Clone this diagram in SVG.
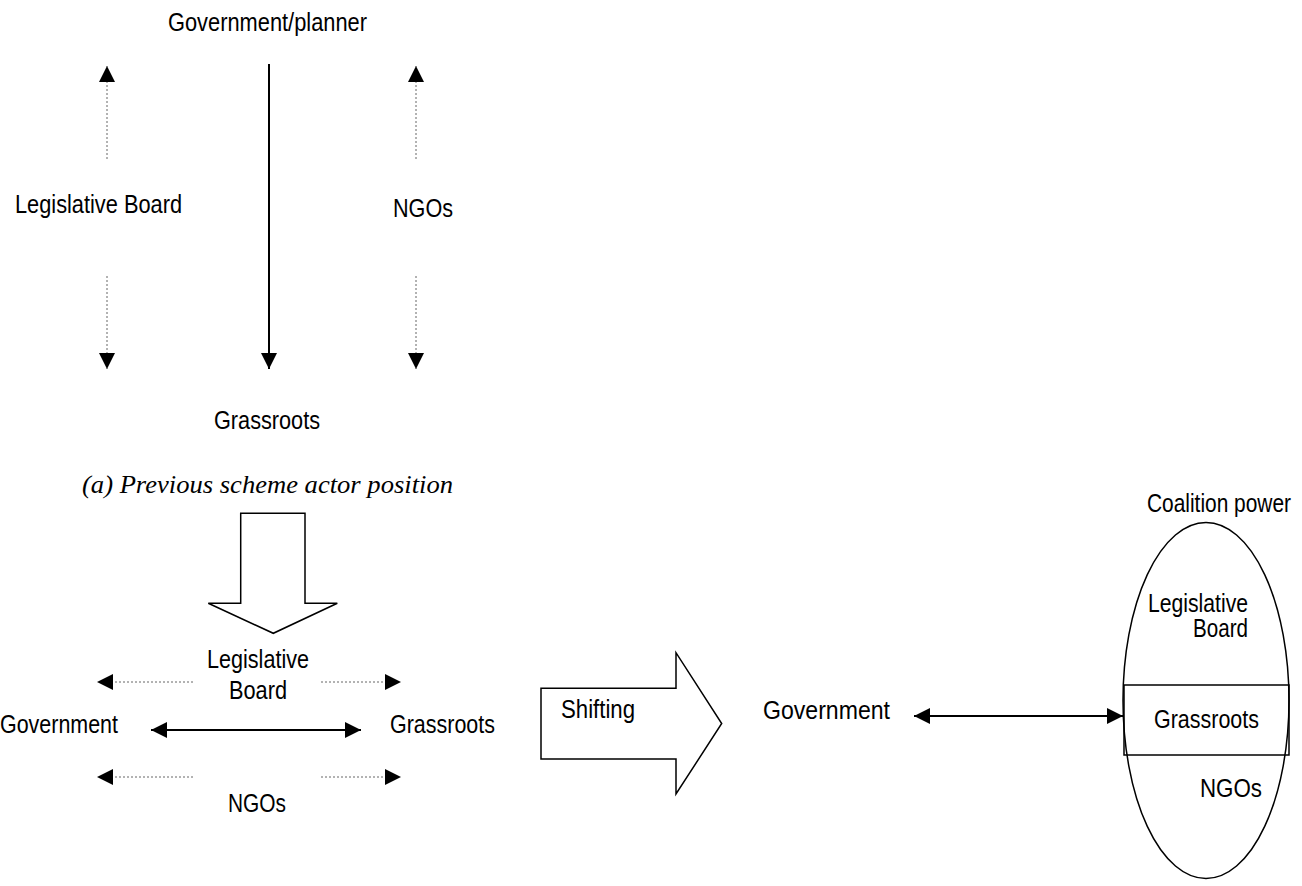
<svg xmlns="http://www.w3.org/2000/svg" width="1302" height="886" viewBox="0 0 1302 886">
<defs>
<style>
.t{font-family:"Liberation Sans",Arial,sans-serif;font-size:25px;fill:#000}
.cap{font-family:"Liberation Serif","Times New Roman",serif;font-style:italic;font-size:26px;fill:#000}
.dot{stroke:#666;stroke-width:1;stroke-dasharray:2 2;fill:none}
.sol{stroke:#000;stroke-width:2;fill:none}
.shape{fill:#fff;stroke:#000;stroke-width:1.5}
.box{fill:none;stroke:#000;stroke-width:1.5}
</style>
<marker id="ah" viewBox="0 0 16 16" refX="16" refY="8" markerWidth="16" markerHeight="16" markerUnits="userSpaceOnUse" orient="auto-start-reverse">
<path d="M0,0 L16,8 L0,16 z" fill="#000"/>
</marker>
</defs>
<rect width="1302" height="886" fill="#fff"/>

<g id="top-government">
<text class="t" x="168" y="31" textLength="199" lengthAdjust="spacingAndGlyphs">Government/planner</text>
</g>
<g id="top-legislative">
<text class="t" x="15" y="213" textLength="167" lengthAdjust="spacingAndGlyphs">Legislative Board</text>
</g>
<g id="top-ngos">
<text class="t" x="393" y="217" textLength="60" lengthAdjust="spacingAndGlyphs">NGOs</text>
</g>
<g id="top-grassroots">
<text class="t" x="214" y="429" textLength="106" lengthAdjust="spacingAndGlyphs">Grassroots</text>
</g>
<g id="caption-a">
<text class="cap" x="82" y="493" textLength="371" lengthAdjust="spacingAndGlyphs">(a) Previous scheme actor position</text>
</g>

<g id="down-block-arrow">
<polygon class="shape" points="240.7,513.3 305,513.3 305,603.3 337.3,603.3 273.3,633.3 208.3,603.3 240.7,603.3"/>
</g>

<g id="mid-legislative">
<text class="t" x="207" y="668" textLength="102" lengthAdjust="spacingAndGlyphs">Legislative</text>
<text class="t" x="229" y="699" textLength="58" lengthAdjust="spacingAndGlyphs">Board</text>
</g>
<g id="mid-government">
<text class="t" x="0" y="733" textLength="118" lengthAdjust="spacingAndGlyphs">Government</text>
</g>
<g id="mid-grassroots">
<text class="t" x="390" y="733" textLength="105" lengthAdjust="spacingAndGlyphs">Grassroots</text>
</g>
<g id="mid-ngos">
<text class="t" x="228" y="812" textLength="58" lengthAdjust="spacingAndGlyphs">NGOs</text>
</g>

<g id="shifting-arrow">
<polygon class="shape" points="541,688.3 676,688.3 676,652.7 721.7,723.5 676,794 676,759 541,759"/>
<text class="t" x="561" y="718" textLength="74" lengthAdjust="spacingAndGlyphs">Shifting</text>
</g>

<g id="right-government">
<text class="t" x="763" y="719" textLength="127" lengthAdjust="spacingAndGlyphs">Government</text>
</g>

<g id="coalition">
<text class="t" x="1147" y="512" textLength="144" lengthAdjust="spacingAndGlyphs">Coalition power</text>
<ellipse class="shape" cx="1206" cy="700.5" rx="83" ry="178"/>
<text class="t" x="1148" y="612" textLength="100" lengthAdjust="spacingAndGlyphs">Legislative</text>
<text class="t" x="1193" y="637" textLength="55" lengthAdjust="spacingAndGlyphs">Board</text>
<rect class="box" x="1124" y="685" width="165" height="70"/>
<text class="t" x="1154" y="728" textLength="105" lengthAdjust="spacingAndGlyphs">Grassroots</text>
<text class="t" x="1200" y="797" textLength="62" lengthAdjust="spacingAndGlyphs">NGOs</text>
</g>

<g id="connectors">
<line class="dot" x1="107" y1="159" x2="107" y2="66" marker-end="url(#ah)"/>
<line class="dot" x1="107" y1="276" x2="107" y2="369" marker-end="url(#ah)"/>
<line class="sol" x1="269" y1="64" x2="269" y2="369" marker-end="url(#ah)"/>
<line class="dot" x1="416" y1="159" x2="416" y2="66" marker-end="url(#ah)"/>
<line class="dot" x1="416" y1="276" x2="416" y2="369" marker-end="url(#ah)"/>

<line class="dot" x1="193" y1="682" x2="97" y2="682" marker-end="url(#ah)"/>
<line class="dot" x1="321" y1="682" x2="401" y2="682" marker-end="url(#ah)"/>
<line class="dot" x1="193" y1="777" x2="97" y2="777" marker-end="url(#ah)"/>
<line class="dot" x1="321" y1="777" x2="401" y2="777" marker-end="url(#ah)"/>
<line class="sol" x1="151" y1="730" x2="361" y2="730" marker-start="url(#ah)" marker-end="url(#ah)"/>

<line class="sol" x1="914" y1="716" x2="1123" y2="716" marker-start="url(#ah)" marker-end="url(#ah)"/>
</g>
</svg>
